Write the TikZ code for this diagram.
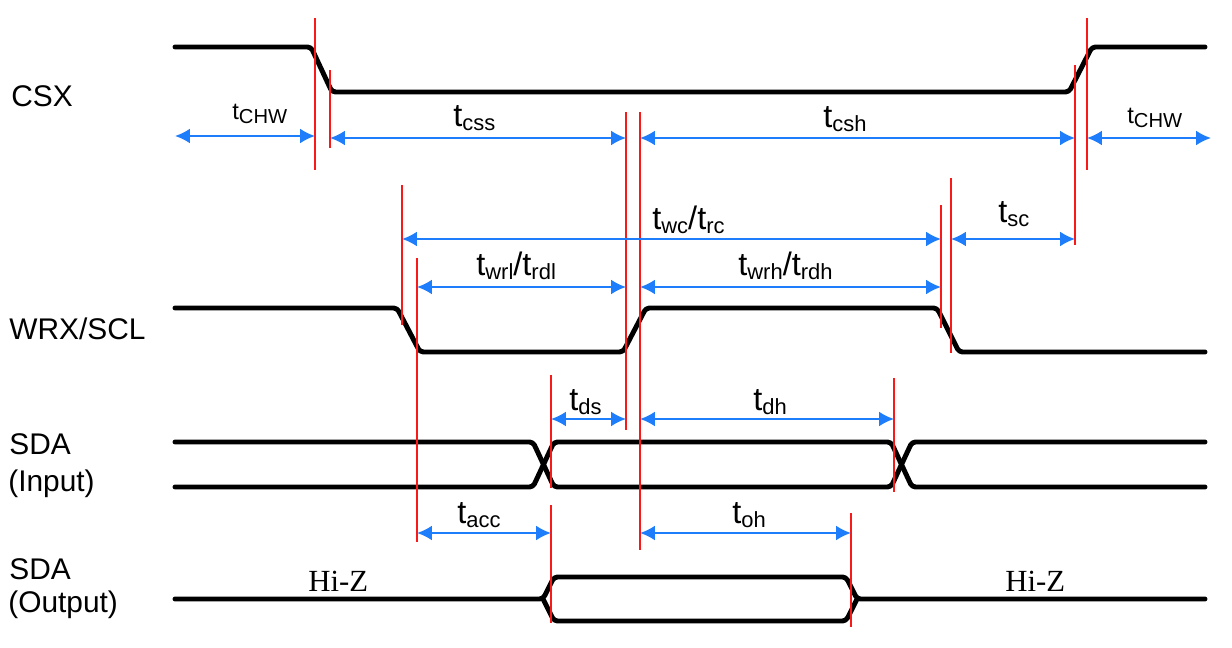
\documentclass[tikz,border=0pt]{standalone}
\usepackage{fontspec}
\setmainfont{Liberation Sans}
\newfontfamily\hizfont{Liberation Serif}
\usetikzlibrary{arrows.meta}

\definecolor{dimblue}{RGB}{30,125,250}
\definecolor{markred}{RGB}{250,25,25}

% small lowered subscript for the timing names
\newcommand{\tsub}[2][12.5]{\raisebox{-1.8pt}{\fontsize{#1}{#1}\selectfont #2}}

\begin{document}
\begin{tikzpicture}[x=0.02cm, y=-0.02cm,
	> = {Latex[length=8.5pt,width=8.5pt]}, % arrow head style
	signal/.style={line width=2.8pt, line join=round, line cap=round, rounded corners=2},
	redline/.style={markred, line width=0.9pt},
	dim/.style={<->, dimblue, line width=1.2pt},
	sig/.style={anchor=base west, inner sep=0pt, font=\fontsize{17}{17}\selectfont},
	tbig/.style={anchor=base west, inner sep=0pt, font=\fontsize{18.5}{18.5}\selectfont},
	tsmall/.style={anchor=base west, inner sep=0pt, font=\fontsize{13.5}{13.5}\selectfont},
	hiz/.style={anchor=base west, inner sep=0pt, font=\hizfont\fontsize{17.5}{17.5}\selectfont}]
	\useasboundingbox (0,0) rectangle (1232,648);

	% signal names
	\node[sig] (csx) at (11,107) {CSX};
	\node[sig] (wrx) at (9,340) {WRX/SCL};
	\node[sig] (sdain) at (9,455) {SDA};
	\node[sig] (sdain2) at (8,492) {(Input)};
	\node[sig] (sdaout) at (9,580) {SDA};
	\node[sig] (sdaout2) at (8,613) {(Output)};

	% waveforms
	\draw[signal] (175,47) -- (311,47) -- (332,92) -- (1069,92) -- (1092,47) -- (1205,47);
	\draw[signal] (175,308) -- (397,308) -- (420,352) -- (623,352) -- (646,308) -- (937,308) -- (959,352) -- (1205,352);
	\draw[signal] (175,442) -- (533,442) -- (554,487) -- (891,487) -- (912,442) -- (1205,442);
	\draw[signal] (175,487) -- (533,487) -- (554,442) -- (891,442) -- (912,487) -- (1205,487);
	\draw[signal] (175,599) -- (543,599) -- (554,577) -- (846,577) -- (857,599) -- (1205,599);
	\draw[signal] (543,599) -- (554,621) -- (846,621) -- (857,599);

	% timing edges
	\foreach \x/\ya/\yb in {315/18/170, 330/70/148, 626/112/430, 640/112/550,
		1075/65/245, 1087/18/170, 402/185/325, 417/258/542, 941/205/328,
		951/178/353, 551/375/488, 551/505/623, 894/378/492, 851/513/627}
		\draw[redline] (\x,\ya) -- (\x,\yb);

	% timing arrows
	\draw[dim] (175,136) -- (315,136);
	\draw[dim] (330,138) -- (626,138);
	\draw[dim] (640,138) -- (1075,138);
	\draw[dim] (1087,138) -- (1211,138);
	\draw[dim] (402,239) -- (941,239);
	\draw[dim] (951,239) -- (1075,239);
	\draw[dim] (417,287) -- (626,287);
	\draw[dim] (640,287) -- (941,287);
	\draw[dim] (551,419) -- (626,419);
	\draw[dim] (640,419) -- (894,419);
	\draw[dim] (417,533) -- (551,533);
	\draw[dim] (640,533) -- (851,533);

	% timing names
	\node[tsmall] (chwa) at (232,120) {t\tsub[11.5]{CHW}};
	\node[tbig] (css) at (453,127) {t\tsub{css}};
	\node[tbig] (csh) at (823,128) {t\tsub{csh}};
	\node[tsmall] (chwb) at (1127,124) {t\tsub[11.5]{CHW}};
	\node[tbig] (wc) at (652,230) {t\tsub{wc}/t\tsub{rc}};
	\node[tbig] (sc) at (998,223) {t\tsub{sc}};
	\node[tbig] (wrl) at (476,276) {t\tsub{wrl}/t\tsub{rdl}};
	\node[tbig] (wrh) at (738,276) {t\tsub{wrh}/t\tsub{rdh}};
	\node[tbig] (ds) at (569,411) {t\tsub{ds}};
	\node[tbig] (dh) at (753,411) {t\tsub{dh}};
	\node[tbig] (acc) at (457,524) {t\tsub{acc}};
	\node[tbig] (oh) at (732,524) {t\tsub{oh}};

	\node[hiz] (hiza) at (308,592) {Hi-Z};
	\node[hiz] (hizb) at (1005,592) {Hi-Z};

\end{tikzpicture}
\end{document}
